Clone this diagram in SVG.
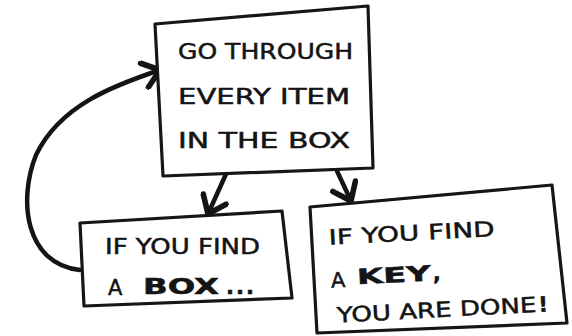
<svg xmlns="http://www.w3.org/2000/svg" width="572" height="336" viewBox="0 0 572 336">
  <defs>
    <style>
      .box { fill: #fff; stroke: #161616; stroke-width: 3.2; stroke-linejoin: round; }
      .conn { fill: none; stroke: #141414; stroke-width: 4.5; stroke-linecap: round; }
      .t { font-family: "DejaVu Sans", "Liberation Sans", sans-serif; font-size: 21px; fill: #141414; stroke: #141414; stroke-width: 0.5; }
      .b { font-weight: bold; }
    </style>
    <marker id="head" markerUnits="userSpaceOnUse" markerWidth="30" markerHeight="30" viewBox="-16 -12 20 24" refX="0" refY="0" orient="auto">
      <path d="M -13 -10 L 0 0 L -13 10" fill="none" stroke="#141414" stroke-width="4.5" stroke-linecap="round" stroke-linejoin="round"/>
    </marker>
  </defs>
  <rect width="572" height="336" fill="#fff"/>

  <g id="connectors">
    <path class="conn" d="M 226 174 L 208 214" marker-end="url(#head)"/>
    <path class="conn" d="M 337 171 L 351 201" marker-end="url(#head)"/>
    <path class="conn" d="M 80 270 C 25 264, 18 200, 36 155 C 60 105, 115 85, 160 70" marker-end="url(#head)"/>
  </g>

  <g id="node-top">
    <path class="box" d="M 155 24 L 368 6 L 373 168 L 163 176 Z"/>
    <text class="t" x="178" y="59" textLength="175" lengthAdjust="spacingAndGlyphs">GO THROUGH</text>
    <text class="t" x="178" y="104" textLength="172" lengthAdjust="spacingAndGlyphs">EVERY ITEM</text>
    <text class="t" x="178" y="148" textLength="172" lengthAdjust="spacingAndGlyphs">IN THE BOX</text>
  </g>

  <g id="node-box">
    <path class="box" d="M 80 223 L 282 211 L 292 298 L 84 306 Z"/>
    <text class="t" x="105" y="254" textLength="155" lengthAdjust="spacingAndGlyphs">IF YOU FIND</text>
    <text class="t" x="108" y="295">A</text>
    <text class="t b" x="143" y="294" font-size="31" textLength="76" lengthAdjust="spacingAndGlyphs">BOX</text>
    <text class="t b" x="226" y="294" font-size="22" textLength="28">...</text>
  </g>

  <g id="node-key">
    <path class="box" d="M 310 207 L 552 185 L 567 323 L 317 333 Z"/>
    <g transform="rotate(-3 440 260)">
      <text class="t" x="330" y="239" textLength="166" lengthAdjust="spacingAndGlyphs">IF YOU FIND</text>
      <text class="t" x="330" y="282">A</text>
      <text class="t b" x="356" y="280" font-size="31" textLength="74" lengthAdjust="spacingAndGlyphs">KEY</text>
      <text class="t b" x="432" y="280" font-size="26">,</text>
      <text class="t" x="334" y="317" textLength="200" lengthAdjust="spacingAndGlyphs">YOU ARE DONE</text>
      <text class="t b" x="536" y="317" font-size="36">!</text>
    </g>
  </g>
</svg>
